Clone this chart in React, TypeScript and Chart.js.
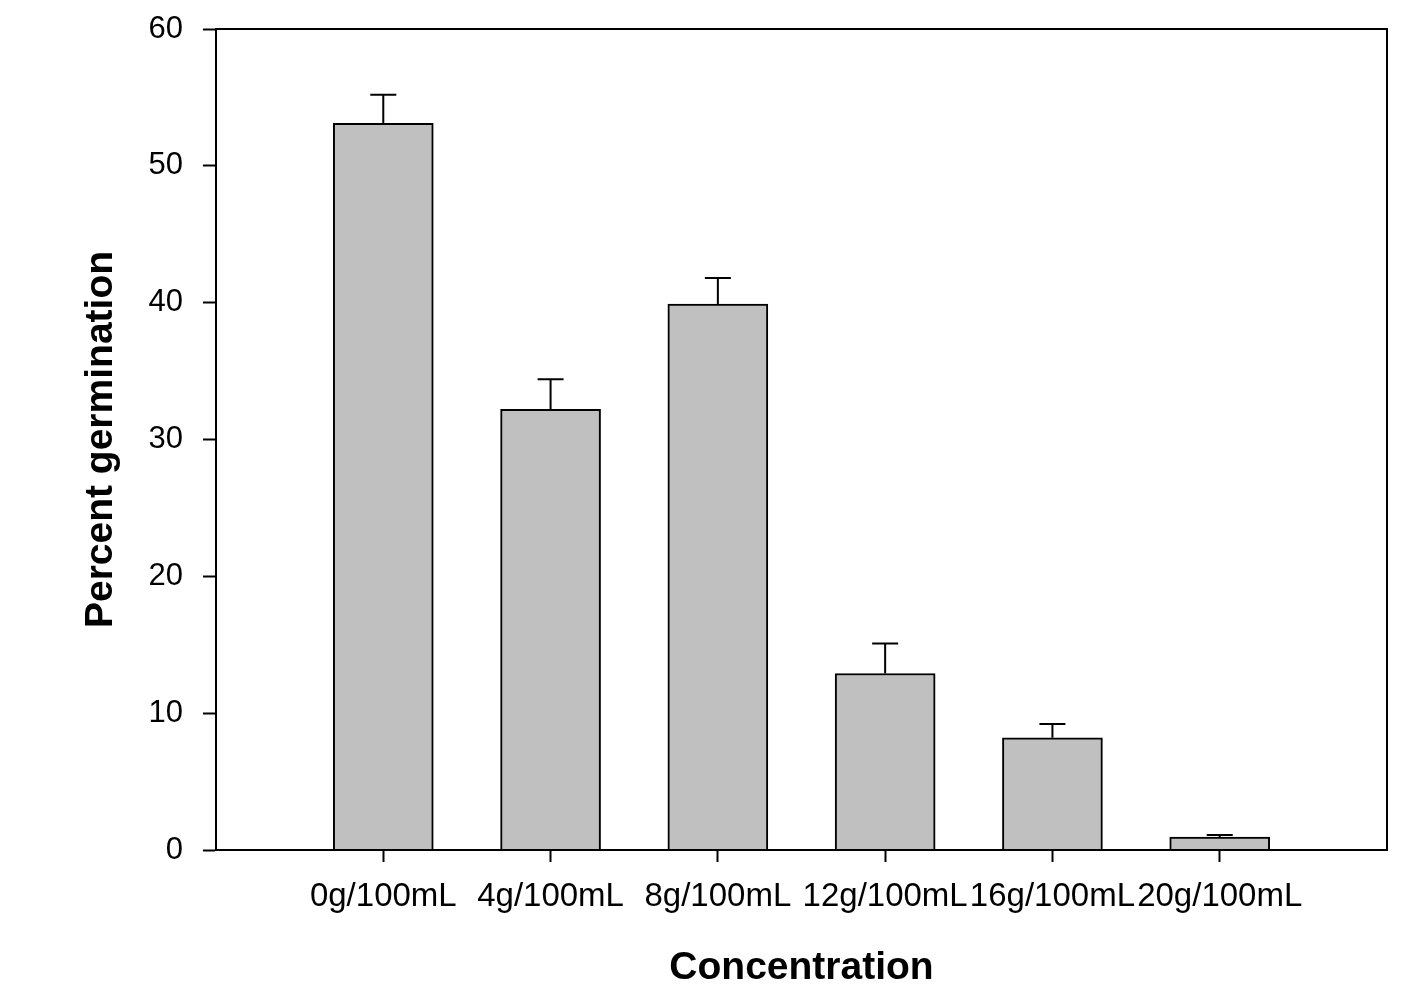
import React, { useEffect, useRef } from "react";
import { Chart, registerables } from "chart.js";

Chart.register(...registerables);

const categories = ["0g/100mL", "4g/100mL", "8g/100mL", "12g/100mL", "16g/100mL", "20g/100mL"];
const germination = [53.1, 32.2, 39.9, 12.9, 8.2, 0.95];
const errorUp = [2.1, 2.2, 1.9, 2.2, 1.0, 0.15];
const yTicks = [0, 10, 20, 30, 40, 50, 60];

const FONT = "'Liberation Sans', Arial, Helvetica, sans-serif";

const framePlugin = {
  id: "frame",
  afterDraw(chart: any) {
    const { ctx, chartArea } = chart;
    ctx.save();
    ctx.strokeStyle = "#000";
    ctx.lineWidth = 2;
    ctx.strokeRect(chartArea.left, chartArea.top, chartArea.right - chartArea.left, chartArea.bottom - chartArea.top);
    ctx.restore();
  },
};

const errorBarPlugin = {
  id: "errorBars",
  afterDatasetsDraw(chart: any) {
    const { ctx, scales } = chart;
    const xs = scales.x;
    const ys = scales.y;
    ctx.save();
    ctx.strokeStyle = "#000";
    ctx.lineWidth = 2;
    germination.forEach((v, i) => {
      const x = xs.getPixelForValue(i + 1);
      const yb = ys.getPixelForValue(v);
      const yt = ys.getPixelForValue(v + errorUp[i]);
      ctx.beginPath();
      ctx.moveTo(x, yb);
      ctx.lineTo(x, yt);
      ctx.moveTo(x - 13, yt);
      ctx.lineTo(x + 13, yt);
      ctx.stroke();
    });
    ctx.restore();
  },
};

export default function App() {
  const ref = useRef<HTMLCanvasElement>(null);
  useEffect(() => {
    if (!ref.current) return;
    const chart = new Chart(ref.current, {
      type: "bar",
      data: {
        datasets: [
          {
            data: germination.map((v, i) => ({ x: i + 1, y: v })),
            backgroundColor: "#c0c0c0",
            borderColor: "#000",
            borderWidth: 2,
            barThickness: 100,
          },
        ],
      },
      options: {
        responsive: false,
        animation: false,
        layout: { padding: { left: 0, top: 29, right: 33, bottom: 0 } },
        plugins: { legend: { display: false }, tooltip: { enabled: false } },
        scales: {
          x: {
            type: "linear",
            offset: false,
            min: 0,
            max: categories.length + 1,
            afterBuildTicks: (scale: any) => {
              scale.ticks = categories.map((_, i) => ({ value: i + 1 }));
            },
            afterFit: (scale: any) => {
              scale.height = 142;
              scale.paddingLeft = 0;
              scale.paddingRight = 0;
            },
            grid: { offset: false, drawOnChartArea: false, drawTicks: true, tickLength: 12, color: "#000", tickWidth: 2 },
            border: { display: true, color: "#000", width: 2 },
            ticks: {
              autoSkip: false,
              maxRotation: 0,
              minRotation: 0,
              padding: 15,
              color: "#000",
              font: { family: FONT, size: 33 },
              callback: (v: any) => categories[Number(v) - 1] ?? "",
            },
            title: {
              display: true,
              text: "Concentration",
              color: "#000",
              font: { family: FONT, size: 39, weight: "bold" },
              padding: { top: 0, bottom: 0 },
            },
          },
          y: {
            min: 0,
            max: 60,
            afterBuildTicks: (scale: any) => {
              scale.ticks = yTicks.map((v) => ({ value: v }));
            },
            afterFit: (scale: any) => {
              scale.width = 216;
              scale.paddingTop = 0;
              scale.paddingBottom = 0;
            },
            grid: { drawOnChartArea: false, drawTicks: true, tickLength: 13, color: "#000", tickWidth: 2 },
            border: { display: true, color: "#000", width: 2 },
            ticks: {
              padding: 20,
              color: "#000",
              font: { family: FONT, size: 31 },
            },
            title: {
              display: true,
              text: "Percent germination",
              color: "#000",
              font: { family: FONT, size: 39, weight: "bold" },
              padding: { top: 78, bottom: 0 },
            },
          },
        },
      } as any,
      plugins: [framePlugin, errorBarPlugin],
    });
    return () => chart.destroy();
  }, []);
  return (
    <div style={{ position: "fixed", left: 0, top: 0, width: 1420, height: 992, background: "#fff" }}>
      <canvas ref={ref} width={1420} height={992} style={{ display: "block" }} />
    </div>
  );
}
